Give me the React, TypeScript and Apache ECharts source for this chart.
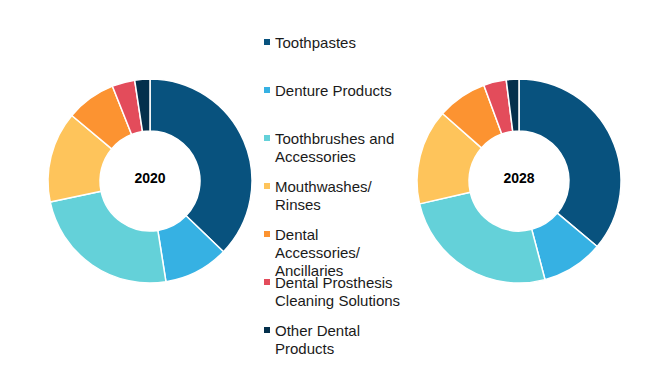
import React, { useEffect, useRef } from "react";
import * as echarts from "echarts";

const categories = [
  "Toothpastes",
  "Denture Products",
  "Toothbrushes and Accessories",
  "Mouthwashes/ Rinses",
  "Dental Accessories/ Ancillaries",
  "Dental Prosthesis Cleaning Solutions",
  "Other Dental Products",
];
const legendLabels = [
  "Toothpastes",
  "Denture Products",
  "Toothbrushes and\nAccessories",
  "Mouthwashes/\nRinses",
  "Dental\nAccessories/\nAncillaries",
  "Dental Prosthesis\nCleaning Solutions",
  "Other Dental\nProducts",
];
const colors = ["#08527e", "#36b1e3", "#64d1d9", "#fec45b", "#fc9331", "#e34c5b", "#04304c"];
const values2020 = [37.2, 10.3, 24.2, 14.4, 7.9, 3.6, 2.4];
const values2028 = [36.1, 9.8, 25.5, 15.1, 7.9, 3.6, 2.0];
const years = ["2020", "2028"];

export default function App() {
  const ref = useRef<HTMLDivElement>(null);
  useEffect(() => {
    document.body.style.margin = "0";
    if (!ref.current) return;
    const chart = echarts.init(ref.current, null, { renderer: "svg" });
    const font = "'Liberation Sans', Arial, sans-serif";
    const makeSeries = (vals: number[], cx: number, name: string) => ({
      type: "pie",
      name,
      center: [cx, 181],
      radius: [50, 102],
      startAngle: 90,
      clockwise: true,
      label: {
        show: true,
        position: "center",
        formatter: () => name,
        fontSize: 14,
        fontWeight: "bold",
        color: "#000",
        fontFamily: font,
        offset: [0, -3],
      },
      labelLine: { show: false },
      emphasis: { disabled: true },
      itemStyle: { borderColor: "#fff", borderWidth: 1.5 },
      data: categories.map((c, i) => ({
        name: c,
        value: vals[i],
        itemStyle: { color: colors[i] },
        label: { show: i === 0 },
      })),
    });
    const graphics: any[] = [];
    legendLabels.forEach((lab, i) => {
      graphics.push({
        type: "rect",
        left: 264,
        top: 39 + 48 * i,
        shape: { width: 6, height: 6 },
        style: { fill: colors[i] },
        silent: true,
      });
      graphics.push({
        type: "text",
        left: 275,
        top: 33 + 48 * i,
        style: {
          text: lab,
          fill: "#1a1a1a",
          fontSize: 15,
          fontFamily: font,
          lineHeight: 18,
        },
        silent: true,
      });
    });
    chart.setOption({
      animation: false,
      backgroundColor: "#fff",
      tooltip: { show: false },
      series: [makeSeries(values2020, 150, years[0]), makeSeries(values2028, 519, years[1])],
      graphic: graphics,
    });
    return () => chart.dispose();
  }, []);
  return <div ref={ref} style={{ width: 670, height: 386, background: "#fff" }} />;
}
